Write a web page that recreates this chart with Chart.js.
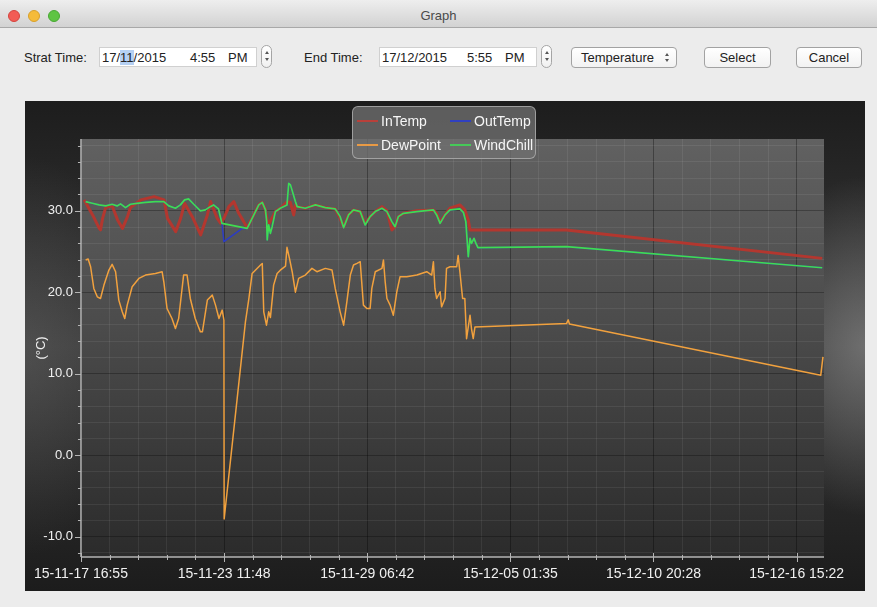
<!DOCTYPE html>
<html><head><meta charset="utf-8">
<script src="https://cdn.jsdelivr.net/npm/chart.js@4/dist/chart.umd.min.js"></script>
<style>
html,body{margin:0;padding:0;}
body{width:877px;height:607px;background:#ececec;position:relative;overflow:hidden;font-family:"Liberation Sans",Arial,Helvetica,sans-serif;color:#222;}
.titlebar{position:absolute;left:0;top:0;width:877px;height:27px;background:linear-gradient(#eeeeee,#d2d2d2);border-bottom:1px solid #a8a8a8;}
.title{position:absolute;left:0;top:8px;width:877px;text-align:center;font-size:13px;color:#4a4a4a;}
.light{position:absolute;top:10px;width:12px;height:12px;border-radius:50%;box-sizing:border-box;}
.lbl{position:absolute;top:50px;font-size:13px;line-height:15px;color:#222;white-space:pre;}
.field{position:absolute;top:47px;height:20px;background:#fff;border:1px solid #d0d0d0;box-sizing:border-box;}
.field span{position:absolute;top:2px;font-size:13px;line-height:15px;color:#222;white-space:pre;}
.hl{background:#b5d0f3;}
.step{position:absolute;top:45px;width:11px;height:23px;border:1px solid #a5a5a5;border-radius:6px;background:linear-gradient(#ffffff,#f0f0f0);box-sizing:border-box;}
.up,.dn{position:absolute;left:3px;width:0;height:0;border-left:2px solid transparent;border-right:2px solid transparent;}
.up{top:5px;border-bottom:3px solid #555;}
.dn{top:12px;border-top:3px solid #555;}
.btn{position:absolute;top:47px;height:21px;border:1px solid #a2a2a2;border-radius:4px;background:linear-gradient(#ffffff,#f2f2f2);box-sizing:border-box;font-size:13px;line-height:19px;text-align:center;color:#222;}
#panel{position:absolute;left:25px;top:101px;width:840px;height:490px;
background:
 radial-gradient(ellipse 110px 170px at 100% 50%, rgba(150,150,150,0.55), rgba(150,150,150,0) 100%),
 radial-gradient(ellipse 110px 200px at 0% 52%, rgba(110,110,110,0.35), rgba(110,110,110,0) 100%),
 linear-gradient(180deg,#1d1d1d 0%,#242424 12%,#3e3e3e 50%,#262626 82%,#1c1c1c 100%);}
#legend{position:absolute;left:352px;top:106px;width:184px;height:53px;box-sizing:border-box;background:rgba(112,112,112,0.78);border:1px solid rgba(175,175,175,0.8);border-radius:6px;}
.lg{position:absolute;font-size:14px;line-height:16px;color:#f6f6f6;white-space:pre;}
.ll{position:absolute;height:1.5px;width:21px;}
</style></head>
<body>
<div class="titlebar">
  <div class="light" style="left:8px;background:#f25c55;border:1px solid #d4443e;"></div>
  <div class="light" style="left:28px;background:#f5bb3a;border:1px solid #d8a02b;"></div>
  <div class="light" style="left:48px;background:#5ec443;border:1px solid #48a833;"></div>
  <div class="title">Graph</div>
</div>

<div class="lbl" style="left:24px;">Strat Time:</div>
<div class="field" style="left:99px;width:158px;">
  <span style="left:2px;">17/<span class="hl" style="position:static;">11</span>/2015</span>
  <span style="left:90px;">4:55</span>
  <span style="left:128px;">PM</span>
</div>
<div class="step" style="left:261px;"><div class="up"></div><div class="dn"></div></div>

<div class="lbl" style="left:304px;">End Time:</div>
<div class="field" style="left:379px;width:158px;">
  <span style="left:2px;">17/12/2015</span>
  <span style="left:87px;">5:55</span>
  <span style="left:125px;">PM</span>
</div>
<div class="step" style="left:541px;"><div class="up"></div><div class="dn"></div></div>

<div class="btn" style="left:571px;width:106px;text-align:left;padding-left:9px;">Temperature
  <div class="up" style="left:93px;top:5px;"></div><div class="dn" style="left:93px;top:11px;"></div></div>
<div class="btn" style="left:704px;width:67px;">Select</div>
<div class="btn" style="left:796px;width:66px;">Cancel</div>

<div id="panel"><canvas id="c" width="840" height="490"></canvas></div>

<div id="legend">
  <div class="ll" style="left:4px;top:13px;background:#b8403a;"></div>
  <div class="lg" style="left:28px;top:6px;">InTemp</div>
  <div class="ll" style="left:97px;top:13px;background:#3040c0;"></div>
  <div class="lg" style="left:121px;top:6px;">OutTemp</div>
  <div class="ll" style="left:4px;top:37px;background:#e89a45;"></div>
  <div class="lg" style="left:28px;top:30px;">DewPoint</div>
  <div class="ll" style="left:97px;top:37px;background:#46c958;"></div>
  <div class="lg" style="left:121px;top:30px;">WindChill</div>
</div>

<script>
// ---- data (time in days since 15-11-17 16:55) ----
const xLabels = ['15-11-17 16:55','15-11-23 11:48','15-11-29 06:42','15-12-05 01:35','15-12-10 20:28','15-12-16 15:22'];
const xMaxDays = 30.0417;
const yMin = -12.5, yMax = 38.8;

const inTime = [0.13,0.47,0.74,0.79,0.875,1.0,1.26,1.48,1.68,1.88,2.0,2.42,2.96,3.36,3.50,3.83,4.03,4.19,4.50,4.84,5.11,5.24,5.51,5.65,5.78,5.98,6.18,6.38,6.58,6.72,6.92,7.19,7.33,7.46,7.53,7.60,7.86,8.06,8.33,8.47,8.60,8.67,8.74,9.07,9.48,9.88,10.28,10.48,10.62,10.82,11.02,11.29,11.49,11.69,11.90,12.17,12.37,12.57,12.70,12.83,13.04,13.58,14.25,14.38,14.52,14.72,14.92,15.32,15.52,15.66,15.73,15.86,19.63,29.97];
const inTemp = [31.33,29.48,27.83,27.64,29.06,30.40,30.60,28.87,27.83,29.27,30.40,31.33,31.73,31.33,29.06,27.43,29.06,30.90,29.27,27.02,29.48,31.12,29.06,28.45,29.06,30.50,31.12,29.68,28.66,27.90,29.10,30.71,31.03,30.10,28.80,28.40,29.89,30.30,31.10,31.00,29.48,30.70,30.50,30.30,30.71,30.38,30.22,29.06,28.00,29.48,30.10,29.89,28.40,29.27,29.89,30.50,30.00,27.64,28.04,29.27,29.68,30.00,30.10,29.68,28.60,29.48,30.30,30.71,30.10,28.87,27.64,27.64,27.64,24.15];

const outTime = [0.19,0.46,0.73,1.0,1.26,1.46,1.60,1.80,2.0,2.26,2.61,3.01,3.35,3.55,3.82,4.02,4.19,4.35,4.56,4.83,5.03,5.23,5.36,5.56,5.70,5.78,6.52,6.72,6.92,7.19,7.33,7.46,7.51,7.53,7.59,7.66,7.73,7.86,8.06,8.33,8.40,8.47,8.67,8.74,9.07,9.48,9.88,10.28,10.48,10.62,10.82,11.02,11.29,11.49,11.69,11.90,12.17,12.37,12.57,12.70,12.83,13.04,13.58,14.25,14.38,14.52,14.72,14.92,15.32,15.46,15.56,15.66,15.73,15.79,15.89,15.97,16.05,19.63,29.97];
const outTemp = [31.12,30.91,30.71,30.59,30.79,30.59,30.84,30.38,30.79,30.91,31.03,31.12,31.12,30.59,30.30,30.71,31.33,31.45,30.79,29.98,30.10,30.50,30.71,30.22,28.45,26.20,27.83,27.83,29.06,30.71,31.03,30.10,28.66,26.41,28.25,27.22,28.04,29.89,30.30,30.71,33.37,33.17,31.12,30.50,30.30,30.71,30.38,30.22,29.27,27.92,29.48,30.10,29.89,28.25,29.27,29.89,30.30,29.89,28.66,28.04,29.27,29.68,29.89,30.10,29.48,28.45,29.48,30.10,30.22,29.80,28.66,24.35,26.61,25.99,26.61,25.99,25.46,25.58,23.00];

const dewTime = [0.19,0.29,0.39,0.52,0.66,0.79,0.93,1.13,1.26,1.40,1.53,1.67,1.77,1.87,2.07,2.34,2.61,3.01,3.28,3.35,3.48,3.68,3.82,3.95,4.15,4.29,4.42,4.62,4.83,4.91,5.11,5.31,5.44,5.58,5.71,5.78,5.79,6.65,6.79,6.92,7.26,7.33,7.39,7.50,7.59,7.66,7.79,7.93,8.06,8.27,8.33,8.43,8.54,8.67,8.80,9.07,9.34,9.54,9.88,10.15,10.28,10.48,10.62,10.75,10.89,11.02,11.16,11.29,11.36,11.42,11.56,11.69,11.76,11.90,12.17,12.23,12.30,12.37,12.50,12.63,12.77,12.90,13.17,13.58,13.98,14.18,14.25,14.31,14.38,14.52,14.58,14.72,14.78,14.92,15.19,15.25,15.32,15.43,15.52,15.59,15.73,15.79,15.86,15.93,19.63,19.70,19.75,29.91,30.00];
const dewPoint = [23.95,24.07,23.12,20.46,19.43,19.23,20.87,22.72,23.41,22.51,19.03,17.59,16.77,18.41,20.66,21.69,22.10,22.30,22.51,21.28,18.00,16.77,15.54,16.77,22.10,22.10,19.23,16.77,15.13,15.13,19.03,19.64,18.41,16.77,17.80,16.57,-7.84,16.36,19.23,22.30,23.33,23.53,17.59,15.95,17.59,16.90,20.87,22.30,22.70,23.20,25.50,24.15,22.51,20.00,21.69,22.10,22.92,22.51,22.92,22.72,20.46,17.59,15.95,18.82,22.10,23.33,23.53,23.74,20.87,18.41,18.00,18.00,20.46,22.51,22.92,23.95,21.28,19.23,18.41,17.18,20.05,21.89,21.89,22.10,22.51,22.10,23.74,20.46,19.23,20.05,18.20,19.23,22.92,23.12,23.12,24.50,22.51,19.23,19.23,14.30,17.18,15.50,14.31,15.74,16.15,16.60,16.10,9.80,12.05];

const windTime = [0.19,0.46,0.73,1.0,1.26,1.46,1.60,1.80,2.0,2.26,2.61,3.01,3.35,3.55,3.82,4.02,4.19,4.35,4.56,4.83,5.03,5.23,5.36,5.56,5.70,6.72,6.92,7.19,7.33,7.46,7.51,7.53,7.59,7.66,7.73,7.86,8.06,8.33,8.40,8.47,8.67,8.74,9.07,9.48,9.88,10.28,10.48,10.62,10.82,11.02,11.29,11.49,11.69,11.90,12.17,12.37,12.57,12.70,12.83,13.04,13.58,14.25,14.38,14.52,14.72,14.92,15.32,15.46,15.56,15.66,15.73,15.79,15.89,15.97,16.05,19.63,29.97];
const windChill = [31.12,30.91,30.71,30.59,30.79,30.59,30.84,30.38,30.79,30.91,31.03,31.12,31.12,30.59,30.30,30.71,31.33,31.45,30.79,29.98,30.10,30.50,30.71,30.22,28.45,27.83,29.06,30.71,31.03,30.10,28.66,26.41,28.25,27.22,28.04,29.89,30.30,30.71,33.37,33.17,31.12,30.50,30.30,30.71,30.38,30.22,29.27,27.92,29.48,30.10,29.89,28.25,29.27,29.89,30.30,29.89,28.66,28.04,29.27,29.68,29.89,30.10,29.48,28.45,29.48,30.10,30.22,29.80,28.66,24.35,26.61,25.99,26.61,25.99,25.46,25.58,23.00];

// ---- scale tick positions ----
const xMajorStep = 500000 / 86400;   // 500000 s between labelled ticks
const xMinorPerMajor = 5;
const yMajorStep = 10, yMinorStep = 2;

function pts(t, v){ return t.map((x,i)=>({x:x, y:v[i]})); }
function isMajorX(v){ const r=v/xMajorStep; return Math.abs(r-Math.round(r))<1e-6; }

const yFont = {family:'"Liberation Sans", Arial, sans-serif', size:13};
const xFont = {family:'"Liberation Sans", Arial, sans-serif', size:14};
const tickColor = '#f0f0f0';

const decor = {
  id:'decor',
  beforeDraw(chart){
    const {ctx, chartArea:a} = chart;
    const g = ctx.createLinearGradient(0,a.top,0,a.bottom);
    g.addColorStop(0,'#616161'); g.addColorStop(0.45,'#4b4b4b'); g.addColorStop(1,'#2b2b2b');
    ctx.save(); ctx.fillStyle=g; ctx.fillRect(a.left,a.top,a.right-a.left,a.bottom-a.top); ctx.restore();
  },
  afterDraw(chart){
    const {ctx, chartArea:a, scales} = chart;
    ctx.save();
    ctx.strokeStyle='#b4b4b4'; ctx.lineWidth=1.5;
    ctx.beginPath(); ctx.moveTo(a.left, a.top); ctx.lineTo(a.left, a.bottom); ctx.stroke();
    ctx.beginPath(); ctx.moveTo(a.left, a.bottom); ctx.lineTo(a.right, a.bottom); ctx.stroke();
    ctx.lineWidth=1;
    scales.y.ticks.forEach(t=>{
      const p = Math.round(scales.y.getPixelForValue(t.value))+0.5;
      const len = (t.value % yMajorStep === 0) ? 6 : 3;
      ctx.beginPath(); ctx.moveTo(a.left-len,p); ctx.lineTo(a.left,p); ctx.stroke();
    });
    scales.x.ticks.forEach(t=>{
      const p = Math.round(scales.x.getPixelForValue(t.value))+0.5;
      const maj = isMajorX(t.value);
      ctx.beginPath(); ctx.moveTo(p, a.bottom-(maj?4:2)); ctx.lineTo(p, a.bottom+(maj?5:3)); ctx.stroke();
    });
    ctx.restore();
  }
};

new Chart(document.getElementById('c'), {
  type:'line',
  data:{datasets:[
    {label:'InTemp', data:pts(inTime,inTemp), borderColor:'#b3372f', borderWidth:3, order:3},
    {label:'OutTemp', data:pts(outTime,outTemp), borderColor:'#2c3cc4', borderWidth:1.5, order:2},
    {label:'DewPoint', data:pts(dewTime,dewPoint), borderColor:'#f1a13e', borderWidth:1.5, order:1},
    {label:'WindChill', data:pts(windTime,windChill), borderColor:'#40dc50', borderWidth:1.7, order:0}
  ]},
  options:{
    responsive:false, animation:false, devicePixelRatio:1,
    layout:{padding:{left:0, top:38, right:41, bottom:0}},
    elements:{point:{radius:0}, line:{tension:0, borderJoinStyle:'round', fill:false}},
    plugins:{legend:{display:false}, tooltip:{enabled:false}},
    scales:{
      x:{
        type:'linear', min:0, max:xMaxDays,
        afterBuildTicks(s){
          const t=[]; const step = xMajorStep/xMinorPerMajor;
          for(let i=0; i*step<=xMaxDays+1e-9; i++){ t.push({value:i*step}); }
          s.ticks=t;
        },
        afterFit(s){ s.height=34; },
        grid:{drawTicks:false, color:c=> isMajorX(c.tick.value) ? 'rgba(0,0,0,0.32)' : 'rgba(255,255,255,0.07)'},
        border:{display:false},
        ticks:{autoSkip:false, maxRotation:0, padding:9, color:tickColor, font:xFont,
          callback:(v)=> isMajorX(v) ? xLabels[Math.round(v/xMajorStep)] : ''}
      },
      y:{
        type:'linear', min:yMin, max:yMax,
        afterBuildTicks(s){
          const t=[]; for(let v=-12; v<=38; v+=yMinorStep){ t.push({value:v}); } s.ticks=t;
        },
        afterFit(s){ s.width=54; },
        grid:{drawTicks:false, color:c=> (c.tick.value % yMajorStep === 0) ? 'rgba(0,0,0,0.28)' : 'rgba(255,255,255,0.07)'},
        border:{display:false},
        title:{display:true, text:'(°C)', color:tickColor, font:yFont, padding:{top:7,bottom:0}},
        ticks:{autoSkip:false, padding:8, color:tickColor, font:yFont,
          callback:(v)=> (v % yMajorStep === 0) ? v.toFixed(1) : ''}
      }
    }
  },
  plugins:[decor]
});
</script>
</body></html>
